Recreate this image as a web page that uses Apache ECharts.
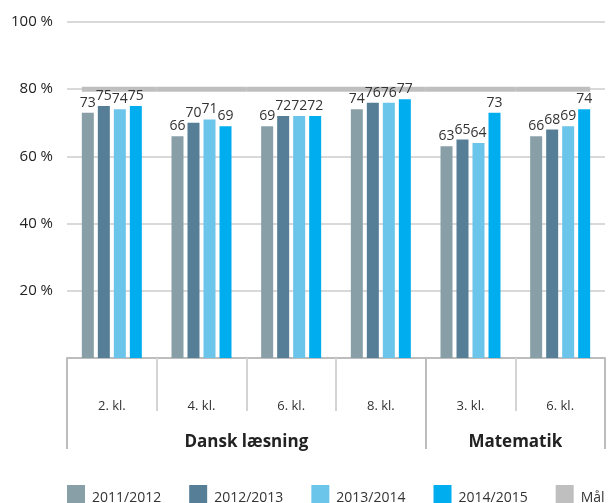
<!DOCTYPE html>
<html>
<head>
<meta charset="utf-8">
<script src="https://cdn.jsdelivr.net/npm/echarts@6/dist/echarts.min.js"></script>
<style>
html,body{margin:0;padding:0;background:#fff;}
#chart{width:609px;height:503px;}
</style>
</head>
<body>
<div id="chart"></div>
<script>
// ---- data ----
var categories = ['2. kl.', '4. kl.', '6. kl.', '8. kl.', '3. kl.', '6. kl.'];
var groupNames = ['Dansk læsning', 'Matematik'];
var groupSizes = [4, 2];
var seriesNames = ['2011/2012', '2012/2013', '2013/2014', '2014/2015'];
var s2011 = [73, 66, 69, 74, 63, 66];
var s2012 = [75, 70, 72, 76, 65, 68];
var s2013 = [74, 71, 72, 76, 64, 69];
var s2014 = [75, 69, 72, 77, 73, 74];
var goalName = 'Mål';
var goalValue = 80;
var yTicks = [0, 20, 40, 60, 80, 100];

// ---- styles ----
var FONT = 'Open Sans';
var colors = ['#889fa7', '#567f97', '#6bc4ea', '#00aeef'];
var goalColor = '#bfbfbf';
var BAR_W = 12, BAR_GAP = 4;

// group axis: boundaryGap=false points at category boundaries
var groupPoints = [];
var boundaries = [0];
(function () {
  var total = 0;
  groupSizes.forEach(function (s) { total += s; boundaries.push(total); });
  for (var i = 0; i <= total; i++) groupPoints.push('');
  for (var g = 0; g < groupNames.length; g++) {
    var mid = (boundaries[g] + boundaries[g + 1]) / 2;
    groupPoints[mid] = groupNames[g];
  }
})();

var allSeries = [s2011, s2012, s2013, s2014];
var series = allSeries.map(function (d, k) {
  return {
    name: seriesNames[k],
    type: 'bar',
    data: d,
    xAxisIndex: 0,
    barWidth: BAR_W,
    barGap: (BAR_GAP / BAR_W * 100) + '%',
    itemStyle: { color: colors[k] },
    label: {
      show: true, position: 'top', distance: 3,
      fontFamily: FONT, fontSize: 14, color: '#333'
    },
    z: 3
  };
});

var nCat = categories.length;
series.push({
  name: goalName,
  type: 'custom',
  xAxisIndex: 0,
  itemStyle: { color: goalColor },
  data: categories.map(function (c, i) { return [i, goalValue]; }),
  renderItem: function (params, api) {
    var i = params.dataIndex;
    var p = api.coord([api.value(0), api.value(1)]);
    var bw = api.size([1, 0])[0];
    var half = (BAR_W * 4 + BAR_GAP * 3) / 2;
    var x1 = i === 0 ? p[0] - half : p[0] - bw / 2;
    var x2 = i === nCat - 1 ? p[0] + half : p[0] + bw / 2;
    return {
      type: 'line',
      shape: { x1: x1, y1: p[1], x2: x2, y2: p[1] },
      style: { stroke: goalColor, lineWidth: 5 }
    };
  },
  z: 2
});

var chart = echarts.init(document.getElementById('chart'), null, { renderer: 'canvas' });
chart.setOption({
  animation: false,
  textStyle: { fontFamily: FONT },
  grid: { left: 67, right: 4, top: 22, bottom: 145, containLabel: false },
  legend: {
    data: seriesNames.concat([goalName]),
    left: 67, top: 485, padding: 0,
    icon: 'rect', itemWidth: 18, itemHeight: 18, itemGap: 28,
    formatter: function (name) { return '{a|' + name + '}'; },
    textStyle: {
      fontFamily: FONT, fontSize: 14, color: '#333',
      rich: { a: { fontFamily: FONT, fontSize: 14, color: '#333', padding: [8, 0, 0, 2] } }
    },
    selectedMode: false
  },
  xAxis: [{
    type: 'category',
    data: categories,
    position: 'bottom',
    axisLine: { show: true, lineStyle: { color: '#bdbdbd', width: 2 } },
    axisTick: { show: true, length: 53, lineStyle: { color: '#d4d4d4', width: 2 } },
    axisLabel: { margin: 42, fontFamily: FONT, fontSize: 13, color: '#333' },
    splitLine: { show: false }
  }, {
    type: 'category',
    data: groupPoints,
    boundaryGap: false,
    position: 'bottom',
    axisLine: { show: false },
    axisTick: {
      show: true, length: 91,
      interval: function (idx) { return boundaries.indexOf(idx) >= 0; },
      lineStyle: { color: '#bdbdbd', width: 2 }
    },
    axisLabel: {
      margin: 76,
      interval: function (idx, val) { return val !== ''; },
      fontFamily: FONT, fontSize: 17, fontWeight: 'bold', color: '#222'
    },
    splitLine: { show: false }
  }],
  yAxis: {
    type: 'value',
    min: yTicks[0], max: yTicks[yTicks.length - 1], interval: yTicks[1] - yTicks[0],
    axisLine: { show: false },
    axisTick: { show: false },
    axisLabel: {
      margin: 14, fontFamily: FONT, fontSize: 15, color: '#222',
      formatter: function (v) { return v === 0 ? '' : v + ' %'; }
    },
    splitLine: { lineStyle: { color: '#cccccc', width: 1.5 } }
  },
  series: series
});
</script>
</body>
</html>
